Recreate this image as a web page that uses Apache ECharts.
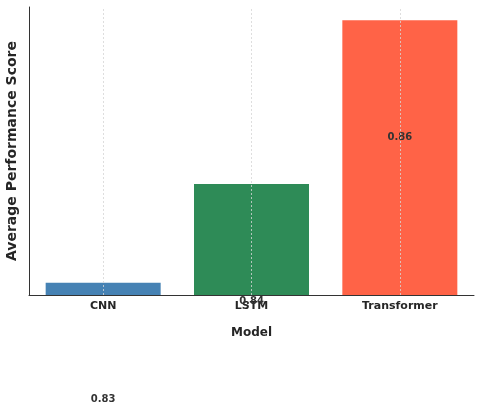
<!DOCTYPE html>
<html>
<head>
<meta charset="utf-8">
<script src="https://cdn.jsdelivr.net/npm/echarts@6/dist/echarts.min.js"></script>
<style>
  html, body { margin: 0; padding: 0; background: #fff; }
  #chart { width: 480px; height: 417px; }
</style>
</head>
<body>
<div id="chart"></div>
<script>
// 数据：模型名与平均得分（标签显示两位小数）
const models = ['CNN', 'LSTM', 'Transformer']
const scores = [0.8312, 0.8424, 0.861]
const barColors = ['#4682B4', '#2E8B57', '#FF6347']

const FONT = 'DejaVu Sans'

const chart = echarts.init(document.getElementById('chart'))

chart.setOption({
  backgroundColor: '#fff',
  animation: false,
  // 关闭 v6 的自动外边界调整，按像素固定绘图区
  grid: { left: 29, right: 6, top: 7, bottom: 122, outerBoundsMode: 'none' },
  xAxis: {
    type: 'category',
    data: models,
    name: 'Model',
    nameLocation: 'middle',
    nameGap: 32,
    nameTextStyle: { fontFamily: FONT, fontWeight: 'bold', fontSize: 12, color: '#262626' },
    axisLine: { lineStyle: { color: '#333', width: 1 } },
    axisTick: { alignWithLabel: true, inside: true, length: 4, lineStyle: { color: '#333' } },
    axisLabel: { fontFamily: FONT, fontWeight: 'bold', fontSize: 11, color: '#262626', margin: 6 },
    splitLine: { show: false },
  },
  yAxis: {
    type: 'value',
    min: 0.8298,
    max: 0.8625,
    name: 'Average Performance Score',
    nameLocation: 'middle',
    nameGap: 10,
    nameTextStyle: { fontFamily: FONT, fontWeight: 'bold', fontSize: 14, color: '#262626' },
    axisLine: { show: true, lineStyle: { color: '#333', width: 1 } },
    axisTick: { show: false },
    axisLabel: { show: false },
    splitLine: { show: false },
  },
  series: [
    {
      type: 'bar',
      barWidth: 115,
      data: scores.map((v, i) => ({ value: v, itemStyle: { color: barColors[i] } })),
      label: {
        show: true,
        // 标签相对柱顶向下偏移（原图中标签落在柱体中部或图外）
        position: ['50%', 117],
        align: 'center',
        verticalAlign: 'middle',
        fontFamily: FONT,
        fontWeight: 'bold',
        fontSize: 10,
        color: '#333',
        formatter: (p) => p.value.toFixed(2),
      },
      // 类目中心的竖向虚线网格
      markLine: {
        silent: true,
        symbol: 'none',
        label: { show: false },
        lineStyle: { color: '#d6d6d6', type: [2, 2], width: 0.8 },
        data: models.map((m) => ({ xAxis: m })),
      },
    },
  ],
})
</script>
</body>
</html>
